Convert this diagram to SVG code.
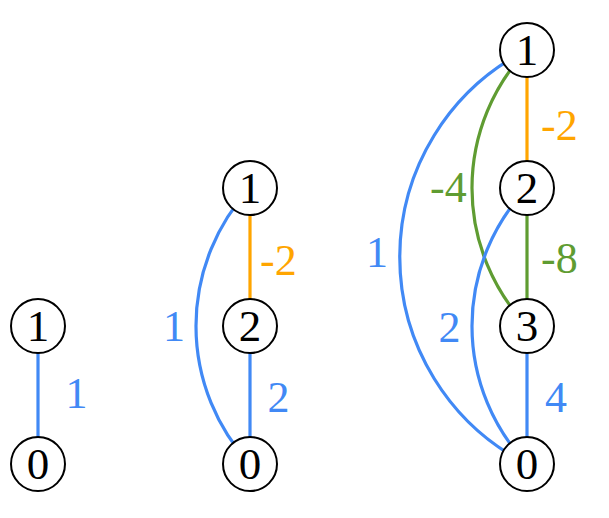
<svg xmlns="http://www.w3.org/2000/svg" width="609" height="518" viewBox="0 0 609 518">
<style>
.e{fill:none;stroke-width:3.2}
.b{stroke:#4189f5}
.o{stroke:#ffa500}
.g{stroke:#5f9c32}
.n circle{fill:#fff;stroke:#000;stroke-width:2}
.n text{font-family:"Liberation Serif","Times New Roman",serif;font-size:45px;text-anchor:middle;fill:#000}
.l{font-family:"Liberation Serif","Times New Roman",serif;font-size:44px}
.lb{fill:#4189f5}
.lo{fill:#ffa500}
.lg{fill:#5f9c32}
</style>
<rect width="609" height="518" fill="#fff"/>
<g id="connectors">
<line class="e b" x1="38" y1="326" x2="38" y2="464"/>
<line class="e o" x1="250" y1="188" x2="250" y2="326"/>
<line class="e b" x1="250" y1="326" x2="250" y2="464"/>
<path class="e b" d="M250 188 A203.3 203.3 0 0 0 250 464"/>
<line class="e o" x1="527" y1="50" x2="527" y2="188"/>
<line class="e g" x1="527" y1="188" x2="527" y2="326"/>
<line class="e b" x1="527" y1="326" x2="527" y2="464"/>
<path class="e b" d="M527 50 A232 232 0 0 0 527 464"/>
<path class="e g" d="M527 50 A200.6 200.6 0 0 0 527 326"/>
<path class="e b" d="M527 188 A200.6 200.6 0 0 0 527 464"/>
</g>
<g id="labels">
<text class="l lb" x="76.5" y="408" text-anchor="middle">1</text>
<text class="l lo" x="260" y="275">-2</text>
<text class="l lb" x="174" y="341" text-anchor="middle">1</text>
<text class="l lb" x="278.5" y="412" text-anchor="middle">2</text>
<text class="l lo" x="541" y="140">-2</text>
<text class="l lg" x="430" y="202">-4</text>
<text class="l lb" x="377" y="267" text-anchor="middle">1</text>
<text class="l lg" x="541" y="273">-8</text>
<text class="l lb" x="449.5" y="342" text-anchor="middle">2</text>
<text class="l lb" x="556" y="412" text-anchor="middle">4</text>
</g>
<g id="a1" class="n"><circle cx="38" cy="326" r="27"/><text x="38" y="341">1</text></g>
<g id="a0" class="n"><circle cx="38" cy="464" r="27"/><text x="38" y="479">0</text></g>
<g id="b1" class="n"><circle cx="250" cy="188" r="27"/><text x="250" y="203">1</text></g>
<g id="b2" class="n"><circle cx="250" cy="326" r="27"/><text x="250" y="341">2</text></g>
<g id="b0" class="n"><circle cx="250" cy="464" r="27"/><text x="250" y="479">0</text></g>
<g id="c1" class="n"><circle cx="527" cy="50" r="27"/><text x="527" y="65">1</text></g>
<g id="c2" class="n"><circle cx="527" cy="188" r="27"/><text x="527" y="203">2</text></g>
<g id="c3" class="n"><circle cx="527" cy="326" r="27"/><text x="527" y="341">3</text></g>
<g id="c0" class="n"><circle cx="527" cy="464" r="27"/><text x="527" y="479">0</text></g>
</svg>
